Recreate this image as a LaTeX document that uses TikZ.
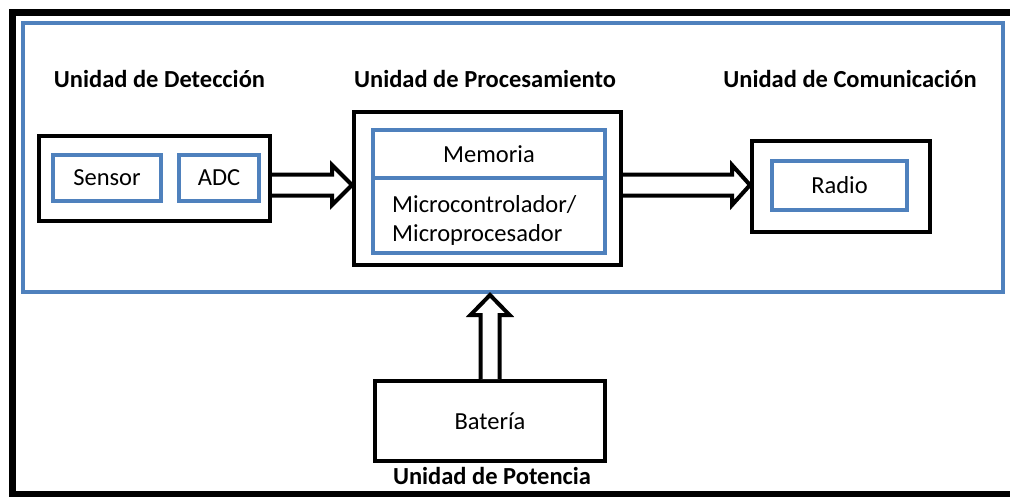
\documentclass[tikz,border=0pt]{standalone}
\usepackage{fontspec}
\setmainfont{Carlito}
\usetikzlibrary{calc}
\definecolor{officeblue}{RGB}{79,129,189}
\tikzset{
  unitbox/.style={draw=black, line width=4pt, fill=white, minimum width=#1, inner sep=0pt},
  partbox/.style={draw=officeblue, line width=4pt, inner sep=0pt},
  unittitle/.style={font=\fontsize{24.5}{28}\selectfont\bfseries, anchor=base, inner sep=0pt},
  label/.style={font=\fontsize{24.5}{29}\selectfont, inner sep=0pt},
  bigarrow/.style={draw=black, line width=4pt, fill=white, line join=miter}
}
\begin{document}
\begin{tikzpicture}[x=1pt, y=-1pt]
\useasboundingbox (0,0) rectangle (1010,496);
\fill[white] (0,0) rectangle (1010,496);

% outer page frame and blue system frame
\draw[line width=7pt] (12.5,12) rectangle (1030,494);
\node[draw=officeblue, line width=4pt, minimum width=980.5pt, minimum height=269pt, inner sep=0pt]
  (frame) at (512.75,157.5) {};

% section titles
\node[unittitle] (tdet)  at (159.5,87) {Unidad de Detección};
\node[unittitle] (tproc) at (485,87)   {Unidad de Procesamiento};
\node[unittitle] (tcom)  at (850,87)   {Unidad de Comunicación};
\node[unittitle] (tpot)  at (492,484)  {Unidad de Potencia};

% detection unit
\node[unitbox=231pt, minimum height=85pt] (det) at (154.5,178.5) {};
\node[partbox, minimum width=108pt, minimum height=46pt, label] (sensor) at (107,178) {Sensor};
\node[partbox, minimum width=80pt, minimum height=46pt, label] (adc) at (219,178) {ADC};

% processing unit
\node[unitbox=267pt, minimum height=153pt] (proc) at (487.5,188.5) {};
\node[partbox, minimum width=232pt, minimum height=48pt, label] (mem) at (489,154) {Memoria};
\node[partbox, minimum width=232pt, minimum height=75pt] (micro) at (489,215.5) {};
% two-line label: the base anchor sits on the last line's baseline
\node[label, anchor=base west, align=left] (microtxt) at (392,241)
  {Microcontrolador/\\Microprocesador};

% communication unit
\node[unitbox=178pt, minimum height=91pt] (com) at (841,186.5) {};
\node[partbox, minimum width=135pt, minimum height=49pt, label] (radio) at (839.5,185.5) {Radio};

% power unit
\node[unitbox=230pt, minimum height=80pt, label] (bat) at (490,421) {Batería};

% block arrows between units
\coordinate (lane) at (0,185);
\draw[bigarrow] ($(det.east |- lane)+(0,-10.5)$) -- ($(proc.west |- lane)+(-20,-10.5)$)
  -- ($(proc.west |- lane)+(-20,-20)$) -- (proc.west |- lane)
  -- ($(proc.west |- lane)+(-20,20)$) -- ($(proc.west |- lane)+(-20,10.5)$)
  -- ($(det.east |- lane)+(0,10.5)$);
\draw[bigarrow] ($(proc.east |- lane)+(0,-10.5)$) -- ($(com.west |- lane)+(-18,-10.5)$)
  -- ($(com.west |- lane)+(-18,-20)$) -- (com.west |- lane)
  -- ($(com.west |- lane)+(-18,20)$) -- ($(com.west |- lane)+(-18,10.5)$)
  -- ($(proc.east |- lane)+(0,10.5)$);
\draw[bigarrow] ($(bat.north)+(-9.5,0)$) -- ($(bat.north |- frame.south)+(-9.5,21)$)
  -- ($(bat.north |- frame.south)+(-19.5,21)$) -- ($(bat.north |- frame.south)+(0,1)$)
  -- ($(bat.north |- frame.south)+(19.5,21)$) -- ($(bat.north |- frame.south)+(9.5,21)$)
  -- ($(bat.north)+(9.5,0)$);
\end{tikzpicture}
\end{document}
